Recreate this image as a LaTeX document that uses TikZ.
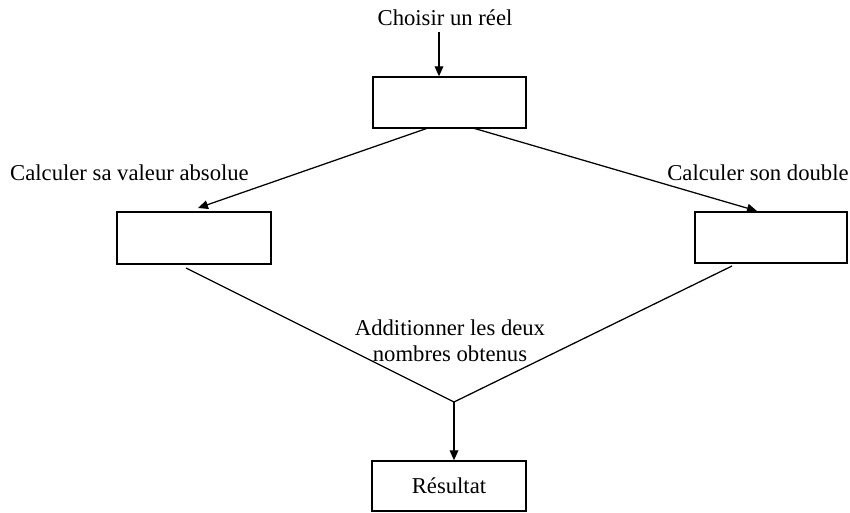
\documentclass[tikz,border=0pt]{standalone}
\usepackage{fontspec}
\setmainfont{Liberation Serif}
\usetikzlibrary{arrows.meta}
\begin{document}
\begin{tikzpicture}[x=0.75pt,y=-0.75pt,
  every node/.style={font=\fontsize{17}{19.5}\selectfont, inner sep=0pt},
  box/.style={draw, line width=1.05pt, minimum width=114pt, minimum height=38pt},
  lbl/.style={align=center},
  link/.style={line width=0.95pt},
  arr/.style={line width=0.95pt, -{Triangle[length=7.5pt,width=6.5pt]}}]
\useasboundingbox (0,0) rectangle (850,512);
\node[lbl] (choisir) at (445,18) {Choisir un réel};
\node[box, minimum width=114.75pt, minimum height=38.25pt] (top) at (449.5,102.5) {};
\node[lbl] (abs) at (129.5,173) {Calculer sa valeur absolue};
\node[lbl] (dbl) at (758,173) {Calculer son double};
\node[box, minimum width=115.5pt, minimum height=39pt] (left) at (194,238) {};
\node[box, minimum width=114pt, minimum height=38.25pt] (right) at (771,237.5) {};
\node[lbl] (add) at (450,341) {Additionner les deux\\nombres obtenus};
\node[box, minimum width=115.5pt, minimum height=37.5pt] (res) at (449,486) {Résultat};
\coordinate (a1) at (439,32);
\coordinate (tl) at (428,128);
\coordinate (tr) at (473,128);
\coordinate (tipl) at (198,208);
\coordinate (tipr) at (757,211);
\coordinate (vl) at (186,268);
\coordinate (vr) at (732,266);
\coordinate (vx) at (454,402);
\draw[arr] (a1) -- (a1 |- top.north);
\draw[arr] (tl) -- (tipl);
\draw[arr] (tr) -- (tipr);
\draw[link] (vl) -- (vx) -- (vr);
\draw[arr] (vx) -- (vx |- res.north);
\end{tikzpicture}
\end{document}
